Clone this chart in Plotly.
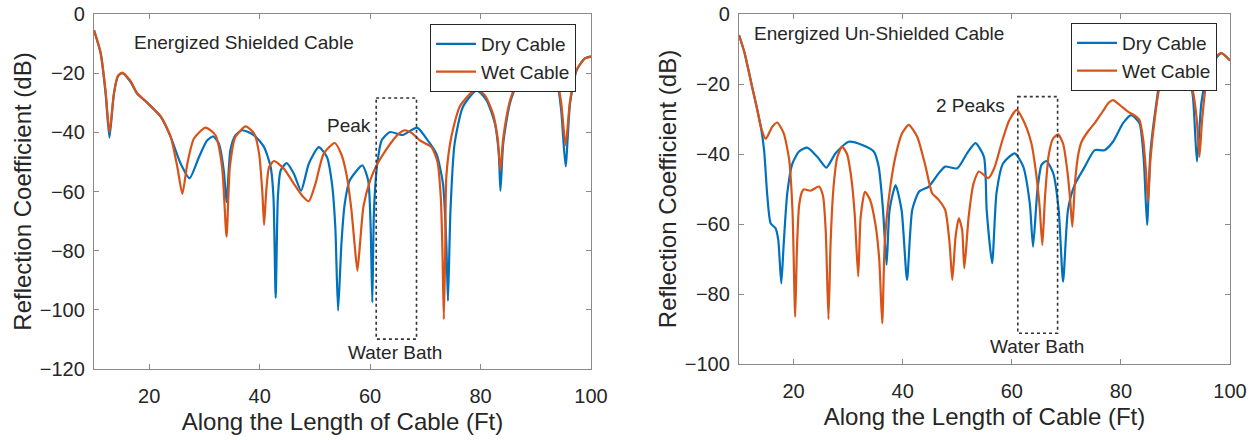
import plotly.graph_objects as go

# ---------------- data ----------------
# Left panel: Energized Shielded Cable
sh_dry_x = [10, 11.2, 12.1, 12.8, 13.6, 14.3, 15.1, 16.6, 17.8, 19.65, 22.1, 23.9, 25.7, 27.3, 29.0, 30.5,
            31.6, 32.6, 33.5, 34.0, 34.7, 35.6, 36.85, 39.0, 40.8, 42.0, 42.5, 42.9, 43.3, 43.8, 44.9, 46.2,
            47.5, 48.9, 50.7, 52.2, 53.1, 53.7, 54.2, 54.8, 55.4, 56.3, 58.6, 59.65, 60.1, 60.4, 60.7, 61.3,
            62.1, 63.6, 65.9, 68.5, 70.2, 72.0, 73.2, 73.8, 74.1, 74.55, 75.3, 76.8, 79.3, 81.1, 82.6, 83.3,
            83.6, 84.1, 85.3, 87.1, 88.5, 90.4, 92.3, 93.7, 94.6, 95.4, 96.2, 97.4, 98.9, 100]
sh_dry_y = [-5.5, -13.3, -26.9, -41.8, -27, -21.2, -20, -22.9, -26.9, -30, -34.8, -41.6, -50.6, -55.5, -48.4, -42.7,
            -41.4, -43.8, -52.9, -63.6, -46, -41, -39.3, -41, -45, -51.8, -61.9, -96, -61.9, -52.9, -50.4, -54,
            -59.7, -50.6, -45, -48.4, -57.4, -72.1, -100.3, -77.7, -64.2, -56.3, -51.2, -56.3, -72.1, -97.5, -66.4, -50.6,
            -42.7, -39.9, -40.9, -38.4, -42.1, -47.2, -57.4, -77.7, -97, -66.4, -43.8, -31.4, -25.8, -29.2, -37.1, -47.2,
            -59.7, -43.8, -30.3, -21.2, -16, -13.5, -16, -21.2, -32.5, -51.5, -30.3, -19, -15, -14.3]

sh_wet_x = [10, 11.2, 12.1, 12.8, 13.6, 14.3, 15.1, 16.6, 17.8, 19.65, 22.1, 23.9, 25.1, 26.0, 26.9, 28.1,
            30.2, 32.0, 33.2, 34.0, 34.6, 35.6, 37.45, 39.0, 39.9, 40.5, 40.8, 41.2, 41.7, 42.6, 44.4, 46.2,
            47.7, 48.9, 50.1, 51.6, 53.6, 54.8, 55.7, 56.6, 57.2, 57.7, 58.2, 58.8, 60.0, 61.2, 62.5, 64.0,
            65.3, 66.3, 67.5, 69.0, 71.1, 72.2, 72.8, 73.1, 73.35, 73.6, 73.8, 74.7, 76.2, 78.3, 79.3, 80.8,
            82.3, 83.1, 83.6, 84.1, 85.3, 87.1, 88.5, 90.4, 92.3, 93.7, 94.6, 95.4, 96.2, 97.4, 98.9, 100]
sh_wet_y = [-5.4, -13, -26, -40, -27, -21, -19.8, -22.6, -26.7, -30, -34.6, -41.6, -51.8, -60.8, -50.6, -42.1,
            -38.4, -41, -51.8, -75.3, -51.8, -41.6, -38, -40.4, -47.2, -60.8, -71.3, -59.7, -51.8, -49.7, -52.3, -57.4,
            -61.4, -63.3, -57.4, -47.2, -43.6, -47.5, -54, -66, -78, -86.8, -77, -65, -56.3, -51, -47, -43,
            -40.3, -39.3, -40.2, -42.7, -45, -50, -62, -80, -103.2, -80, -55, -41.6, -31.4, -26.6, -25.6, -27.5,
            -34, -42, -52.9, -42, -29.5, -20.5, -16, -13.5, -16, -21, -30, -44.4, -29.5, -18.8, -15, -14.5]

# Right panel: Energized Un-Shielded Cable
un_dry_x = [10, 11, 12.4, 13.3, 14.0, 14.6, 15.2, 15.8, 16.7, 17.2, 17.75, 18.2, 18.85, 19.8, 21.0, 22.5,
            24.35, 26.0, 27.7, 30.1, 32.6, 34.7, 35.6, 36.4, 37.05, 37.6, 38.7, 39.8, 40.8, 41.75, 43.0, 44.8,
            46.6, 47.8, 50.0, 51.8, 53.35, 54.9, 55.4, 56.4, 57.2, 58.4, 60.55, 62.1, 63.3, 63.9, 64.7, 65.45,
            66.35, 67.6, 68.6, 69.4, 70.3, 71.5, 73.4, 75.2, 77.0, 78.55, 80.4, 81.9, 83.4, 84.2, 84.8, 85.4,
            86.5, 87.4, 89.0, 90.5, 92.0, 93.2, 93.95, 94.75, 96.0, 98.4, 100]
un_dry_y = [-6, -11, -20.8, -27, -32.2, -38.9, -52.2, -59.8, -61.2, -64.6, -77, -65.5, -51.2, -42.7, -39.3, -38.2,
            -40.8, -43.9, -39.8, -36.5, -37.4, -39.3, -43.6, -56, -71.7, -56, -48.9, -56, -76, -56, -50.8, -49.3,
            -45.5, -43.6, -44.1, -39.8, -36.9, -40.8, -56, -71.2, -51.2, -42.7, -39.8, -43.6, -54.1, -66.5, -50.3, -43.1,
            -42, -45.5, -56, -76.5, -56, -48.9, -43.6, -38.9, -38.9, -36.5, -31.2, -28.9, -31.2, -41.7, -60.3, -39.8,
            -25.5, -17, -13, -12, -14, -23.6, -42.2, -25.5, -16, -11.2, -13.3]

un_wet_x = [10, 11, 12.4, 13.3, 14.0, 14.9, 16.1, 17.0, 18.2, 19.2, 19.8, 20.3, 20.6, 21.0, 21.5, 21.9,
            23.1, 24.65, 25.4, 25.9, 26.4, 26.8, 27.3, 28.0, 28.9, 29.8, 30.6, 31.2, 31.85, 32.3, 33.1, 34.0,
            35.0, 35.7, 36.25, 36.7, 37.5, 38.7, 39.9, 41.1, 42.65, 44.2, 45.4, 46.6, 47.8, 48.6, 49.1, 49.7,
            50.3, 50.9, 51.3, 52.1, 53.0, 54.0, 55.7, 56.8, 58.2, 59.5, 60.9, 62.3, 63.6, 64.5, 65.1, 65.6,
            66.1, 66.8, 67.6, 68.5, 69.4, 70.2, 70.7, 71.1, 71.6, 72.2, 72.8, 74.0, 75.2, 76.6, 77.8, 78.55,
            79.8, 81.3, 82.5, 83.4, 84.1, 84.6, 84.97, 85.4, 86.2, 87.2, 89.0, 90.5, 92.0, 93.2, 93.9, 94.4,
            94.9, 95.8, 96.8, 98.4, 100]
un_wet_y = [-6, -11, -20.8, -27, -32.2, -35.7, -32.2, -31, -34.1, -41.7, -56, -86.5, -68, -55, -51, -50.1,
            -50.5, -49.3, -52, -62, -87.2, -65, -50, -41, -37.9, -40, -47, -57, -75, -58, -50.8, -53,
            -60, -70, -88.4, -66, -52.2, -40.6, -34.1, -31.7, -35, -43.6, -51.2, -53.1, -56, -65.5, -76, -63.6,
            -58.4, -61.7, -72.7, -57.9, -48.4, -45, -46.9, -44, -36.5, -30.5, -27.4, -31, -37, -46, -55, -66,
            -52, -40, -35.5, -34.4, -37, -45, -53, -60.8, -48, -40, -36.5, -33.5, -31.2, -28, -25.3, -24.6,
            -26, -27.9, -29, -30.3, -36, -45, -53.6, -42, -30, -20, -14, -12.5, -15, -22, -30, -40.8,
            -30, -18, -13, -11.2, -13.3]

x_ticks = [20, 40, 60, 80, 100]
left_y_ticks = [0, -20, -40, -60, -80, -100, -120]
right_y_ticks = [0, -20, -40, -60, -80, -100]

# water-bath region (ft) and box extents (dB)
bath_x = [61.1, 68.4]
left_box_y = [-28.4, -109.9]
right_box_y = [-23.6, -91.2]

DRY = "#0072BD"
WET = "#D95319"
AX = "#8a8a8a"
TXT = "#262626"
FONT = "Liberation Sans, Arial, sans-serif"

fig = go.Figure()

def line(color):
    return dict(color=color, width=2.2, shape="spline", smoothing=0.6)

fig.add_trace(go.Scatter(x=sh_dry_x, y=sh_dry_y, mode="lines", name="Dry Cable",
                         line=line(DRY), xaxis="x", yaxis="y", legend="legend"))
fig.add_trace(go.Scatter(x=sh_wet_x, y=sh_wet_y, mode="lines", name="Wet Cable",
                         line=line(WET), xaxis="x", yaxis="y", legend="legend"))
fig.add_trace(go.Scatter(x=un_dry_x, y=un_dry_y, mode="lines", name="Dry Cable",
                         line=line(DRY), xaxis="x2", yaxis="y2", legend="legend2"))
fig.add_trace(go.Scatter(x=un_wet_x, y=un_wet_y, mode="lines", name="Wet Cable",
                         line=line(WET), xaxis="x2", yaxis="y2", legend="legend2"))

def xax(domain, anchor):
    return dict(domain=domain, anchor=anchor, range=[10, 100], tickvals=x_ticks,
                ticks="inside", ticklen=5, tickcolor=AX, showline=True, linecolor=AX, linewidth=1.3,
                mirror="ticks", showgrid=False, zeroline=False, automargin=False,
                tickfont=dict(family=FONT, size=20, color=TXT), ticklabelstandoff=9,
                title=dict(text="Along the Length of Cable (Ft)", standoff=7,
                           font=dict(family=FONT, size=24, color=TXT)))

def yax(domain, anchor, rng, ticks):
    return dict(domain=domain, anchor=anchor, range=rng, tickvals=ticks,
                ticks="inside", ticklen=5, tickcolor=AX, showline=True, linecolor=AX, linewidth=1.3,
                mirror="ticks", showgrid=False, zeroline=False, automargin=False,
                tickfont=dict(family=FONT, size=20, color=TXT), ticklabelstandoff=4,
                title=dict(text="Reflection Coefficient (dB)", standoff=1,
                           font=dict(family=FONT, size=24, color=TXT)))

leg_common = dict(bgcolor="white", bordercolor=TXT, borderwidth=1,
                  font=dict(family=FONT, size=19, color=TXT), xanchor="left", yanchor="top",
                  tracegroupgap=0, itemwidth=40)

annots = [
    dict(xref="x", yref="y", x=16.8, y=-9.7, text="Energized Shielded Cable", showarrow=False,
         xanchor="left", yanchor="middle", font=dict(family=FONT, size=19, color=TXT)),
    dict(xref="x", yref="y", x=60.6, y=-37.6, text="Peak", showarrow=False,
         xanchor="right", yanchor="middle", font=dict(family=FONT, size=19, color=TXT)),
    dict(xref="x", yref="y", x=64.5, y=-114.5, text="Water Bath", showarrow=False,
         xanchor="center", yanchor="middle", font=dict(family=FONT, size=19, color=TXT)),
    dict(xref="x2", yref="y2", x=12.3, y=-5.5, text="Energized Un-Shielded Cable", showarrow=False,
         xanchor="left", yanchor="middle", font=dict(family=FONT, size=19, color=TXT)),
    dict(xref="x2", yref="y2", x=52.5, y=-26.0, text="2 Peaks", showarrow=False,
         xanchor="center", yanchor="middle", font=dict(family=FONT, size=19, color=TXT)),
    dict(xref="x2", yref="y2", x=64.6, y=-95.0, text="Water Bath", showarrow=False,
         xanchor="center", yanchor="middle", font=dict(family=FONT, size=19, color=TXT)),
]

shapes = [
    dict(type="rect", xref="x", yref="y", x0=bath_x[0], x1=bath_x[1], y0=left_box_y[0], y1=left_box_y[1],
         line=dict(color="#333333", width=1.6, dash="dot")),
    dict(type="rect", xref="x2", yref="y2", x0=bath_x[0], x1=bath_x[1], y0=right_box_y[0], y1=right_box_y[1],
         line=dict(color="#333333", width=1.6, dash="dot")),
]

fig.update_layout(
    width=1260, height=440, margin=dict(l=0, r=0, t=0, b=0),
    paper_bgcolor="white", plot_bgcolor="white", template="none",
    xaxis=xax([94 / 1260, 591 / 1260], "y"),
    yaxis=yax([1 - 369 / 440, 1 - 14 / 440], "x", [-120, 0], left_y_ticks),
    xaxis2=xax([739 / 1260, 1230 / 1260], "y2"),
    yaxis2=yax([1 - 364 / 440, 1 - 14 / 440], "x2", [-100, 0], right_y_ticks),
    legend=dict(x=430 / 1260, y=1 - 24 / 440, **leg_common),
    legend2=dict(x=1071 / 1260, y=1 - 23 / 440, **leg_common),
    annotations=annots, shapes=shapes, showlegend=True,
)

fig.write_html("out.html")
